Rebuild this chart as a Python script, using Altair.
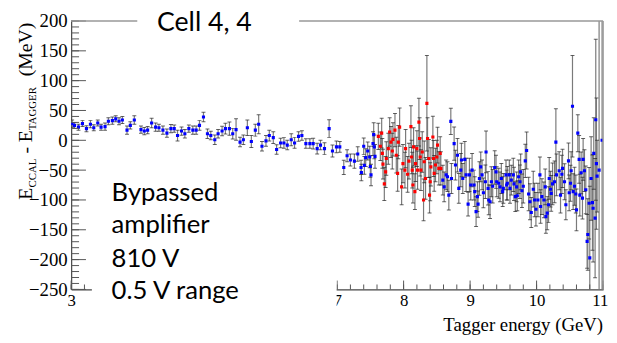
import altair as alt
import pandas as pd

# ---------------- data ----------------
blue_energy = [
    3.015, 3.05, 3.11, 3.17, 3.23, 3.29, 3.34, 3.40, 3.45, 3.51, 3.56, 3.62, 3.67, 3.72, 3.77, 3.84, 3.89, 3.95,
    4.05, 4.10, 4.15, 4.21, 4.27, 4.32, 4.38, 4.44, 4.50, 4.55, 4.60, 4.66, 4.71, 4.77, 4.83, 4.88, 4.93, 4.99,
    5.05, 5.10, 5.16, 5.21, 5.27, 5.32, 5.38, 5.43, 5.48, 5.54, 5.59, 5.65, 5.71, 5.77, 5.82, 5.87, 5.93, 5.98,
    6.04, 6.09, 6.15, 6.20, 6.25, 6.31, 6.36, 6.42, 6.47, 6.53, 6.59, 6.64, 6.70, 6.75, 6.81, 6.88, 6.93, 6.99, 7.04,
    7.10, 7.15, 7.20, 7.26, 7.31, 7.36, 7.365, 7.40, 7.41, 7.43, 7.46, 7.49, 7.50, 7.51, 7.54, 7.55, 7.56, 7.57,
    8.59, 8.61, 8.64, 8.66, 8.68, 8.71, 8.72, 8.76, 8.78, 8.81, 8.83, 8.86, 8.87, 8.89, 8.92, 8.94, 8.97, 8.99,
    9.01, 9.03, 9.06, 9.07, 9.09, 9.11, 9.12, 9.14, 9.16, 9.18, 9.20, 9.23, 9.24, 9.27, 9.28, 9.30, 9.32, 9.34,
    9.37, 9.39, 9.40, 9.43, 9.45, 9.47, 9.49, 9.50, 9.54, 9.55, 9.56, 9.59, 9.60, 9.62, 9.65, 9.66, 9.68, 9.70,
    9.71, 9.73, 9.75, 9.76, 9.78, 9.80, 9.83, 9.85, 9.88, 9.90, 9.92, 9.95, 9.97, 9.99, 10.02, 10.05, 10.06, 10.08,
    10.11, 10.13, 10.14, 10.16, 10.18, 10.19, 10.21, 10.22, 10.24, 10.27, 10.29, 10.30,
    10.34, 10.36, 10.38, 10.39, 10.42, 10.44, 10.48, 10.49, 10.51, 10.52, 10.54, 10.55, 10.57, 10.59, 10.60, 10.62,
    10.64, 10.65, 10.67, 10.69, 10.70, 10.72, 10.74, 10.76, 10.77, 10.79, 10.80, 10.82, 10.84, 10.85, 10.86, 10.88,
    10.89, 10.90, 10.91, 10.94, 10.985,
]
blue_delta = [
    28, 25, 22, 28, 19.5, 27, 21, 29, 22, 23, 32, 33, 36, 32, 34, 17, 25, 34,
    18, 15.5, 17, 29, 22, 21, 17, 12, 19.5, 19.5, 8, 15.5, 11, 19.5, 17, 17, 25, 39,
    11, 8, 1, 11, 15.5, 19.5, 19.5, 11, 18, -3, 1, 21, -2, 17, 27, -10, -1, 8,
    4.5, -15.5, -4.5, -4.5, -8, 1, -4.5, 6.5, 8, -5.5, -5.5, -5.5, -14, -8, -14, 19.5, -18, -11, -11,
    -45.5, -26, -33, -35, -23, -45.5, -54, -10, -42, -29, -18, -28, -44, -58, -5.5, 9.5, -11, -27,
    -66.7, -78, -58, -61, -92, 31.7, -64, -5.5, -41.5, -25, -80.5, -50, -33, -64, -32, -58, -107, -58,
    -75, -50, -75, -86, -119.5, -94.5, -107, -64, -44.5, -58, -88, -69.5, -19.5, -80.5, -100, -103, -69.5, -77,
    -45.5, -53, -69.5, -72, -78, -64, -86, -80.5, -58, -75, -72, -58, -80.5, -66.7, -58, -73, -94.5, -78,
    -93, -61, -69.5, -53, -84.5, -77, -34.5, -17, -90, -103, -121, -82, -100, -115.5, -100, -58, -111, -94.5,
    -100, -78, -128, -122, -108, -64, -82, -89, -73, -69.5, -3, -58,
    -51, -92, -57, -47, -69.5, -108, -34.5, -88, -72, -51, 57, -86, -77, -90, -116.7, 12,
    -32, -92, -54.5, -97, -32, -51, -83, -169.5, -158, -105.5, -197, -64, -104.5, -114, -22, -130.5,
    34.5, -39, -60, -50, 0,
]
blue_err = [
    6, 5, 5, 5, 5, 6, 5, 5, 5, 6, 6, 6, 5, 6, 6, 7, 6, 7,
    6, 6, 6, 8, 7, 6, 7, 7, 7, 6, 9, 7, 7, 6, 7, 7, 8, 8,
    8, 7, 8, 7, 8, 9, 11, 9, 18, 8, 8, 13, 10, 10, 16, 8, 9, 9,
    10, 8, 8, 9, 8, 10, 9, 8, 8, 8, 8, 9, 9, 8, 10, 15, 10, 10, 9,
    12, 10, 10, 12, 12, 12, 14, 14, 15, 15, 15, 18, 18, 18, 20, 20, 20, 20,
    25, 25, 25, 25, 25, 22, 25, 28, 25, 28, 25, 28, 28, 25, 30, 28, 20, 28,
    25, 28, 25, 25, 25, 25, 22, 28, 25, 25, 25, 28, 35, 28, 25, 28, 25, 28,
    28, 28, 25, 25, 25, 25, 25, 25, 25, 25, 28, 25, 25, 25, 28, 28, 25, 25,
    25, 28, 28, 30, 28, 28, 28, 31, 28, 30, 25, 30, 28, 28, 28, 30, 28, 30,
    30, 30, 28, 28, 30, 35, 30, 30, 35, 35, 56, 35,
    32, 30, 32, 32, 30, 25, 30, 30, 30, 32, 85, 30, 32, 32, 35, 31,
    40, 35, 35, 35, 35, 35, 40, 45, 60, 60, 120, 70, 80, 90, 60, 100,
    135, 110, 60, 400, 400,
]

red_energy = [
    7.62, 7.65, 7.67, 7.68, 7.69, 7.71, 7.73, 7.74, 7.77, 7.79, 7.81, 7.83, 7.84, 7.87, 7.89, 7.91, 7.92, 7.94,
    7.97, 7.99, 8.02, 8.03, 8.06, 8.08, 8.11, 8.12, 8.13, 8.14, 8.15, 8.17, 8.18, 8.20, 8.21, 8.23, 8.24, 8.25,
    8.26, 8.28, 8.30, 8.31, 8.33, 8.35, 8.36, 8.38, 8.39, 8.40, 8.41, 8.44, 8.45, 8.46, 8.48, 8.50, 8.51, 8.53,
    8.55, 8.56,
]
red_delta = [
    6.5, -10, 12, -22, -40, -73, -53, -30.5, -14, 14, -3, -18, 1.5, 17, -25, -55.5, -3, 22,
    -78, -39, -50, -14, -57, -35, 23, -28, -50, -75, -11, -86, -39, -14, -50, 30.5, 3, -28,
    -50, -19.5, -100, -36, -64, 62, 3, -30.5, -92, -69.5, -44.5, 5.5, -30.5, -55.5, -41.5, -28, -8, -47,
    -22, -47,
]
red_err = [
    22, 24, 25, 25, 25, 28, 26, 28, 26, 24, 26, 30, 28, 28, 30, 30, 28, 32,
    30, 32, 30, 32, 30, 30, 35, 28, 30, 30, 32, 30, 30, 30, 32, 40, 35, 32,
    34, 34, 35, 35, 35, 80, 35, 32, 30, 32, 32, 35, 30, 30, 28, 28, 30, 28,
    28, 28,
]

x_major = [3, 4, 5, 6, 7, 8, 9, 10, 11]
x_labels = [3, 7, 8, 9, 10, 11]          # 4, 5, 6 are hidden behind the text box
x_minor = [round(3 + 0.2 * i, 1) for i in range(41)]
y_labels = [-250, -200, -150, -100, -50, 0, 50, 100, 150, 200]
y_minor = list(range(-250, 201, 10))

title_text = "Cell 4, 4"
box_lines = ["Bypassed", "amplifier", "810 V", "0.5 V range"]
x_title = "Tagger energy (GeV)"

# ---------------- build table ----------------
rows = []
for e, d, s in zip(blue_energy, blue_delta, blue_err):
    rows.append({"E": e, "d": d, "err": s, "series": "blue"})
for e, d, s in zip(red_energy, red_delta, red_err):
    rows.append({"E": e, "d": d, "err": s, "series": "red"})
df = pd.DataFrame(rows)

W, H = 539, 272
xs = alt.Scale(domain=[3, 11], nice=False, zero=False)
ys = alt.Scale(domain=[-250, 200], nice=False, zero=False)
SERIF = "Liberation Serif"
SANS = "Lato"

x_axis = alt.Axis(values=x_labels, format="d", title=None, grid=False,
                  ticks=False, tickSize=0, labelPadding=3, labelFlush=False, labelOverlap=False,
                  labelAlign={"condition": {"test": "datum.value === 11", "value": "right"}, "value": "center"},
                  labelOffset={"condition": {"test": "datum.value === 11", "value": 5}, "value": 0},
                  labelFont=SERIF, labelFontSize=17, labelColor="#000",
                  domainColor="#444", domainWidth=1.2)
y_axis = alt.Axis(values=y_labels, format="d", title=None, grid=False,
                  ticks=False, tickSize=0, labelPadding=4, labelFlush=False, labelOverlap=False,
                  labelFont=SERIF, labelFontSize=19, labelColor="#000",
                  domainColor="#444", domainWidth=1.2)

def X(f):
    return alt.X(f, scale=xs, axis=x_axis)

def Y(f):
    return alt.Y(f, scale=ys, axis=y_axis)

base = alt.Chart(df).transform_calculate(lo="datum.d - datum.err", hi="datum.d + datum.err")

bars = base.mark_rule(clip=True, color="#7a7a7a", strokeWidth=1.2).encode(
    x=X("E:Q"), y=Y("lo:Q"), y2="hi:Q")
caps_lo = base.mark_tick(clip=True, orient="horizontal", size=4, thickness=1, color="#222").encode(
    x=X("E:Q"), y=Y("lo:Q"))
caps_hi = base.mark_tick(clip=True, orient="horizontal", size=4, thickness=1, color="#222").encode(
    x=X("E:Q"), y=Y("hi:Q"))
pts = base.mark_square(clip=True, size=10, opacity=1).encode(
    x=X("E:Q"), y=Y("d:Q"),
    color=alt.Color("series:N", scale=alt.Scale(domain=["blue", "red"], range=["#0000ff", "#ff0000"]), legend=None),
)

ymaj = alt.Chart(pd.DataFrame({"v": y_labels})).mark_rule(color="#555", strokeWidth=1).encode(
    y=Y("v:Q"), x=alt.value(0), x2=alt.value(15))
ymin = alt.Chart(pd.DataFrame({"v": y_minor})).mark_rule(color="#555", strokeWidth=1).encode(
    y=Y("v:Q"), x=alt.value(0), x2=alt.value(8))
xmaj = alt.Chart(pd.DataFrame({"v": x_major})).mark_rule(color="#555", strokeWidth=1).encode(
    x=X("v:Q"), y=alt.value(H), y2=alt.value(H - 9))
xmin = alt.Chart(pd.DataFrame({"v": x_minor})).mark_rule(color="#555", strokeWidth=1).encode(
    x=X("v:Q"), y=alt.value(H), y2=alt.value(H - 5))

one = pd.DataFrame({"a": [0]})
frame_top = alt.Chart(one).mark_rule(color="#999", strokeWidth=1.5).encode(
    x=alt.value(0), x2=alt.value(W), y=alt.value(0))
frame_right = alt.Chart(one).mark_rule(color="#999", strokeWidth=1.5).encode(
    x=alt.value(W), y=alt.value(0), y2=alt.value(H))

box_text = alt.Chart(one).mark_rect(color="white").encode(
    x=alt.value(21), x2=alt.value(269), y=alt.value(156), y2=alt.value(300))
box_title = alt.Chart(one).mark_rect(color="white").encode(
    x=alt.value(67), x2=alt.value(231), y=alt.value(-11), y2=alt.value(14))

def txt(s, x, y, font, size, align="left", angle=0):
    kw = dict(font=font, fontSize=size, align=align, baseline="alphabetic", color="black")
    if angle:
        kw["angle"] = angle
    return alt.Chart(one).mark_text(**kw).encode(x=alt.value(x), y=alt.value(y), text=alt.value(s))

texts = [txt(title_text, 87, 10, SANS, 27)]
for i, line in enumerate(box_lines):
    texts.append(txt(line, 41, [182, 215, 249, 282][i], SANS, 26))
texts.append(txt(x_title, W, 314, SERIF, 19, align="right"))
# y-axis title pieces (rotated)
texts.append(txt("E", -40, 181, SERIF, 20, angle=270))
texts.append(txt("CCAL", -36, 168.8, SERIF, 11, angle=270))
texts.append(txt("-", -40, 134.3, SERIF, 20, angle=270))
texts.append(txt("E", -40, 122.8, SERIF, 20, angle=270))
texts.append(txt("TAGGER", -36, 110.6, SERIF, 11, angle=270))
texts.append(txt("(MeV)", -40, 56, SERIF, 20, angle=270))

chart = alt.layer(
    bars, caps_lo, caps_hi, pts, ymaj, ymin, xmaj, xmin, frame_top, frame_right,
    box_text, box_title, *texts
).properties(
    width=W, height=H, autosize="none",
    padding={"left": 64, "top": 11, "right": 6, "bottom": 44},
    background="white",
).configure_view(stroke=None)

chart.save("out.html", embed_options={"renderer": "svg", "actions": False})
